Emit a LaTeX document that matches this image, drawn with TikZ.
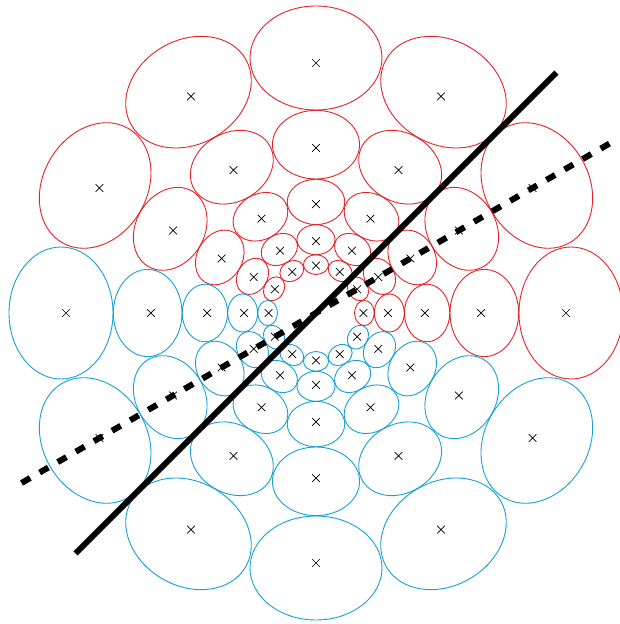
\documentclass[tikz,border=0pt]{standalone}
\usetikzlibrary{shapes.misc}
\definecolor{ringred}{RGB}{228,34,40}
\definecolor{ringblue}{RGB}{22,160,212}

\begin{document}
\begin{tikzpicture}[x=1pt,y=1pt,
    xmark/.style={cross out, draw, line width=0.7pt, minimum size=7pt, inner sep=0pt},
    cell/.style={line width=0.9pt}]
    \useasboundingbox (-316,-311) rectangle (304,313);
    \clip (-316,-311) rectangle (304,313);

    % five rings of twelve cells, each ring 1.515 times smaller
    \foreach \k in {0,...,4} {
      \pgfmathsetmacro{\R}{250/1.515^\k}
      \foreach \i in {0,...,11} {
        \pgfmathsetmacro{\t}{30*\i}
        \ifnum\i<6 \def\col{ringred}\else\def\col{ringblue}\fi
        \draw[cell, \col, rotate=\t] (1.02*\R,0) ellipse [x radius=0.208*\R, y radius=0.264*\R];
        \node[xmark] (m\k-\i) at (\t:\R) {};
      }
    }

    \draw[line width=6pt] (225:340) -- (45:340);
    \draw[line width=6pt, dash pattern=on 10pt off 10.9pt] (210:340) -- (30:340);
\end{tikzpicture}
\end{document}
